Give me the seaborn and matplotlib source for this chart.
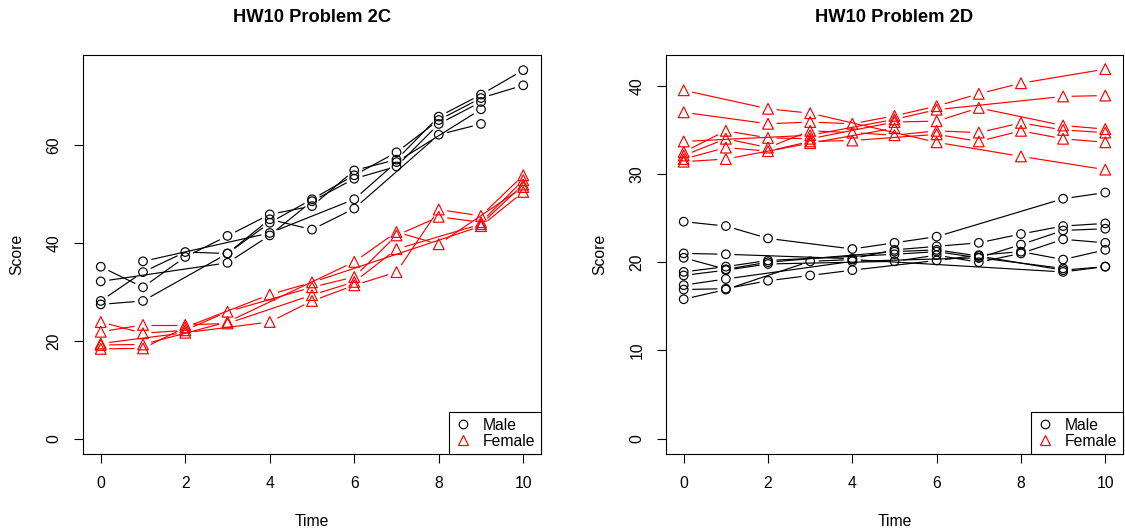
import numpy as np
import pandas as pd
import matplotlib
matplotlib.use("Agg")
import matplotlib.pyplot as plt
from matplotlib.lines import Line2D
from matplotlib.collections import LineCollection
import seaborn as sns

# ---------------- data ----------------
# Problem 2C: one list per subject (times, scores)
C_MALE_T = [[0, 1, 2, 3, 4, 5, 6, 7, 8, 9, 10],
            [0, 3, 4, 5, 6, 7, 8, 9],
            [0, 1, 2, 3, 4, 5, 6, 8, 9],
            [0, 1, 3, 4, 5, 6, 7, 8, 9, 10],
            [1, 4, 6, 7, 9]]
C_MALE_Y = [[35.2, 31.0, 37.2, 41.5, 45.9, 47.6, 54.9, 57.1, 65.9, 70.4, 75.4],
            [32.2, 36.0, 41.6, 48.6, 53.2, 55.7, 64.4, 68.9],
            [28.2, 34.1, 38.2, 37.9, 44.9, 42.8, 47.1, 62.2, 64.4],
            [27.5, 28.2, 37.9, 44.2, 49.0, 53.9, 58.6, 65.2, 69.7, 72.3],
            [36.3, 42.1, 49.0, 56.6, 67.4]]
C_FEMALE_T = [[0, 1, 2, 3, 5, 6, 7, 8, 9, 10],
              [0, 1, 2, 3, 5, 6, 7, 9, 10],
              [0, 2, 4, 5, 6, 7, 8, 9, 10],
              [0, 1, 3, 6, 7, 8, 10],
              [0, 1, 2, 4, 5, 9, 10]]
C_FEMALE_Y = [[23.9, 21.6, 22.2, 26.0, 31.0, 33.1, 41.6, 45.4, 44.3, 52.9],
              [21.9, 23.3, 23.3, 23.6, 29.4, 32.1, 38.8, 43.9, 52.0],
              [19.5, 21.7, 23.9, 28.2, 31.4, 34.1, 46.9, 45.6, 53.9],
              [19.2, 19.3, 23.9, 36.2, 42.3, 39.8, 51.5],
              [18.4, 18.5, 22.8, 29.5, 32.0, 43.5, 50.5]]

# Problem 2D
D_MALE_T = [[0, 1, 2, 4, 5, 6, 9, 10],
            [0, 1, 4, 5, 6, 7, 8, 9, 10],
            [0, 1, 2, 5, 6, 7, 9, 10],
            [0, 1, 2, 5, 6, 7, 8, 9, 10],
            [0, 1, 2, 5, 6, 7, 8, 9, 10],
            [0, 1, 2, 3, 4, 6, 7, 8, 9, 10],
            [0, 1, 3, 4, 9, 10],
            [0, 1, 4, 7, 9]]
D_MALE_Y = [[24.6, 24.1, 22.7, 21.5, 22.2, 22.9, 27.2, 27.9],
            [21.0, 20.9, 20.4, 21.4, 21.8, 22.2, 23.2, 24.1, 24.4],
            [20.5, 19.2, 20.0, 21.2, 21.4, 20.7, 19.1, 19.5],
            [18.9, 19.5, 20.2, 20.9, 21.2, 20.5, 22.0, 23.6, 23.8],
            [18.5, 19.1, 19.8, 20.1, 20.8, 20.0, 21.0, 22.6, 22.2],
            [16.9, 17.0, 17.9, 18.5, 19.1, 20.2, 20.8, 21.2, 20.3, 21.4],
            [15.8, 16.9, 20.1, 20.3, 18.9, 19.5],
            [17.4, 18.1, 20.1, 20.5, 19.3]]
D_FEMALE_T = [[0, 2, 3, 6, 8, 10],
              [0, 2, 3, 4, 5, 6, 7, 8, 10],
              [0, 3, 5, 6, 9, 10],
              [0, 1, 2, 3, 5, 6, 7, 9, 10],
              [0, 1, 2, 3, 4, 5, 6, 7, 8, 9, 10],
              [0, 1, 2, 3, 4, 6, 7, 8, 9, 10],
              [0, 1, 3, 5]]
D_FEMALE_Y = [[39.5, 37.4, 36.9, 33.6, 32.0, 30.5],
              [37.0, 35.7, 35.9, 35.7, 36.6, 37.7, 39.1, 40.3, 41.9],
              [33.7, 34.4, 36.2, 37.3, 38.8, 38.9],
              [32.5, 34.9, 34.1, 34.0, 35.9, 36.0, 37.5, 35.5, 35.1],
              [32.1, 34.0, 33.0, 34.9, 34.7, 34.4, 34.9, 34.7, 35.8, 35.0, 34.7],
              [31.7, 33.0, 32.6, 33.7, 33.8, 34.5, 33.7, 34.9, 34.0, 33.6],
              [31.4, 31.7, 33.5, 35.2]]

TITLES = ["HW10 Problem 2C", "HW10 Problem 2D"]
X_TICKS = [0, 2, 4, 6, 8, 10]
Y_TICKS = [[0, 20, 40, 60], [0, 10, 20, 30, 40]]
SEXES = ["Male", "Female"]

# ---------------- tidy table ----------------
rows = []
groups = [("2C", "Male", C_MALE_T, C_MALE_Y), ("2C", "Female", C_FEMALE_T, C_FEMALE_Y),
          ("2D", "Male", D_MALE_T, D_MALE_Y), ("2D", "Female", D_FEMALE_T, D_FEMALE_Y)]
for panel, sex, TT, YY in groups:
    for i, (ts, ys) in enumerate(zip(TT, YY)):
        for t, y in zip(ts, ys):
            rows.append(dict(panel=panel, sex=sex, subject=f"{panel}-{sex}-{i}", time=t, score=y))
df = pd.DataFrame(rows)

# ---------------- style ----------------
sns.set_style("white")
plt.rcParams["font.family"] = ["Liberation Sans", "DejaVu Sans"]
plt.rcParams["font.size"] = 11.3
for key in ["text.color", "axes.labelcolor", "xtick.color", "ytick.color"]:
    plt.rcParams[key] = "black"

COLORS = {"Male": "black", "Female": "red"}
MARKERS = {"Male": "o", "Female": "^"}
SIZES = {"Male": 38, "Female": 60}

fig = plt.figure(figsize=(11.25, 5.31), dpi=100)
W, H = 1125, 531
boxes = [(83, 55, 541, 454), (666, 55, 1123, 454)]
YLIMS = [(-3.1, 78.5), (-1.75, 43.5)]


def gapped(ax, xs, ys, gap):
    pts = ax.transData.transform(np.column_stack([xs, ys]))
    inv = ax.transData.inverted()
    segs = []
    for p0, p1 in zip(pts[:-1], pts[1:]):
        d = p1 - p0
        L = np.hypot(*d)
        if L <= 2 * gap:
            continue
        u = d / L
        segs.append(inv.transform(np.vstack([p0 + u * gap, p1 - u * gap])))
    return segs


for k, panel in enumerate(["2C", "2D"]):
    x0, y0, x1, y1 = boxes[k]
    ax = fig.add_axes([x0 / W, 1 - y1 / H, (x1 - x0) / W, (y1 - y0) / H])
    ax.set_xlim(-0.42, 10.42)
    ax.set_ylim(*YLIMS[k])
    sub = df[df.panel == panel]
    for sex in SEXES:
        s = sub[sub.sex == sex]
        segs = []
        for _, g in s.groupby("subject"):
            g = g.sort_values("time")
            segs += gapped(ax, g.time.values, g.score.values, 8.5)
        ax.add_collection(LineCollection(segs, colors=COLORS[sex], linewidths=0.85))
    for sex in SEXES:
        s = sub[sub.sex == sex]
        sns.scatterplot(data=s, x="time", y="score", ax=ax, marker=MARKERS[sex],
                        s=SIZES[sex], facecolors="none", edgecolor=COLORS[sex],
                        linewidth=0.85, legend=False, zorder=3)
    ax.set_xticks(X_TICKS)
    ax.set_yticks(Y_TICKS[k])
    ax.tick_params(axis="both", which="both", direction="out", length=6.5, width=0.8,
                   color="black", labelcolor="black", labelsize=11.3, pad=9,
                   bottom=True, left=True, top=False, right=False)
    for lab in ax.get_yticklabels():
        lab.set_rotation(90)
        lab.set_va("center")
    for sp in ax.spines.values():
        sp.set_visible(True)
        sp.set_color("black")
        sp.set_linewidth(0.8)
    ax.set_xlabel("Time", fontsize=11.3, labelpad=17)
    ax.set_ylabel("Score", fontsize=11.3, labelpad=16)
    ax.set_title(TITLES[k], fontsize=13.2, fontweight="bold", pad=24)
    handles = [Line2D([], [], linestyle="none", marker=MARKERS[s], markersize=np.sqrt(SIZES[s]),
                      markerfacecolor="none", markeredgecolor=COLORS[s], markeredgewidth=0.85)
               for s in SEXES]
    leg = ax.legend(handles, SEXES, loc="lower right", borderaxespad=0, fancybox=False,
                    framealpha=1, edgecolor="black", fontsize=11.3, handlelength=1.0,
                    handletextpad=0.8, borderpad=0.35, labelspacing=0.05)
    leg.get_frame().set_linewidth(0.8)

fig.savefig("out.png", dpi=100)
